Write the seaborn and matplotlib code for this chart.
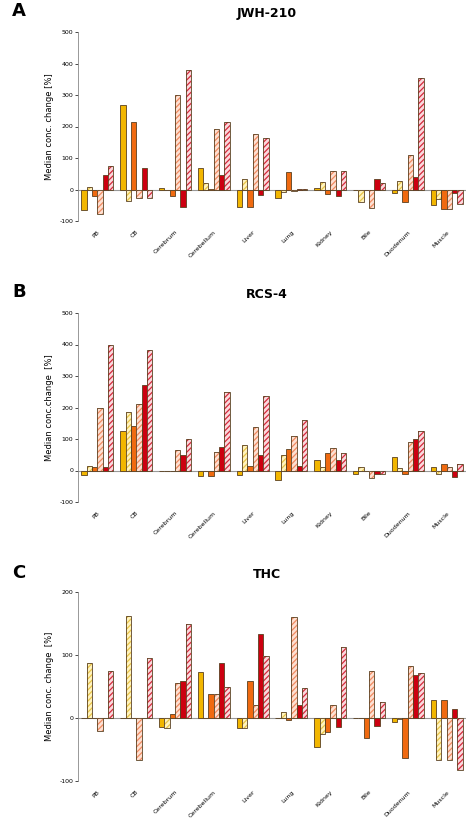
import matplotlib
matplotlib.use("Agg")
import matplotlib.pyplot as plt
import seaborn as sns
import pandas as pd
import numpy as np
from matplotlib.patches import Rectangle

categories = ["PB", "CB", "Cerebrum", "Cerebellum", "Liver", "Lung", "Kidney", "Bile", "Duodenum", "Muscle"]
series = ["s1", "s2", "s3", "s4", "s5", "s6"]

jwh_s1 = [-65, 268, 5, 68, -57, -28, 5, 0, -10, -50]
jwh_s2 = [8, -35, 0, 22, 32, -8, 25, -40, 28, -30]
jwh_s3 = [-20, 215, -22, 3, -57, 55, -15, 0, -40, -62]
jwh_s4 = [-78, -27, 300, 192, 175, -5, 58, -60, 110, -62]
jwh_s5 = [45, 68, -55, 45, -18, 2, -22, 33, 40, -12]
jwh_s6 = [75, -27, 380, 215, 165, 2, 58, 20, 355, -45]

rcs_s1 = [-13, 125, 0, -18, -15, -30, 32, -10, 42, 10]
rcs_s2 = [15, 185, 0, 0, 80, 48, 10, 12, 8, -10]
rcs_s3 = [10, 140, 0, -18, 15, 68, 55, 0, -12, 20]
rcs_s4 = [200, 212, 65, 60, 137, 110, 72, -25, 90, 12]
rcs_s5 = [10, 270, 48, 75, 48, 15, 32, -10, 100, -20]
rcs_s6 = [400, 382, 100, 250, 236, 160, 55, -12, 125, 22]

thc_s1 = [0, 0, -14, 73, -16, 0, -46, 0, -7, 28]
thc_s2 = [87, 162, -16, 0, -16, 9, -26, 0, -2, -66]
thc_s3 = [0, 0, 7, 38, 58, -3, -23, -31, -63, 28]
thc_s4 = [-21, -67, 55, 38, 21, 161, 20, 75, 83, -66]
thc_s5 = [0, 0, 58, 88, 133, 20, -14, -12, 68, 14]
thc_s6 = [75, 96, 150, 50, 98, 47, 113, 25, 71, -82]

face = ["#F2B600", "#FFF3C0", "#F06A10", "#FDE0D2", "#CC0010", "#FAD8DC"]
hatchc = [None, "#E8C448", None, "#F08A60", None, "#D42A3C"]
edge = "#5A4020"

plt.rcParams["hatch.linewidth"] = 0.9
fig = plt.figure(figsize=(4.74, 8.35), dpi=100)

panels = [
    ("A", "JWH-210", [jwh_s1, jwh_s2, jwh_s3, jwh_s4, jwh_s5, jwh_s6], (-100, 500), [-100, 0, 100, 200, 300, 400, 500],
     "Median conc. change [%]", (32, 221), 13),
    ("B", "RCS-4", [rcs_s1, rcs_s2, rcs_s3, rcs_s4, rcs_s5, rcs_s6], (-100, 500), [-100, 0, 100, 200, 300, 400, 500],
     "Median conc.change  [%]", (313, 502), 294),
    ("C", "THC", [thc_s1, thc_s2, thc_s3, thc_s4, thc_s5, thc_s6], (-100, 200), [-100, 0, 100, 200],
     "Median conc. change  [%]", (592, 781), 575),
]

H = 835.0
for letter, title, vals, ylim, yticks, ylab, (ytop, ybot), ttl in panels:
    ax = fig.add_axes([78 / 474, 1 - ybot / H, (466 - 78) / 474, (ybot - ytop) / H])
    rows = []
    for s, v in zip(series, vals):
        for c, x in zip(categories, v):
            rows.append({"cat": c, "series": s, "val": x})
    df = pd.DataFrame(rows)
    sns.barplot(data=df, x="cat", y="val", hue="series", order=categories, hue_order=series,
                palette=face, width=0.82, legend=False, ax=ax, errorbar=None, saturation=1)
    for i, p in enumerate(list(ax.patches)):
        si = i // len(categories)
        if si >= 6:
            continue
        if hatchc[si] is not None:
            p.set_hatch("//////")
            p.set_edgecolor(hatchc[si])
            p.set_linewidth(0)
            ax.add_patch(Rectangle(p.get_xy(), p.get_width(), p.get_height(), fill=False,
                                   edgecolor=edge, linewidth=0.6, zorder=p.get_zorder() + 0.1))
        else:
            p.set_edgecolor(edge)
            p.set_linewidth(0.6)
    ax.axhline(0, color="#999999", linewidth=0.8, zorder=0.5)
    ax.set_ylim(*ylim)
    ax.set_xlim(-0.5, len(categories) - 0.5)
    ax.set_yticks(yticks)
    ax.set_yticklabels([str(t) for t in yticks], fontsize=4.5)
    ax.set_xticks(range(len(categories)))
    ax.set_xticklabels(categories, rotation=45, ha="right", rotation_mode="anchor", fontsize=4.5)
    ax.tick_params(axis="x", length=0, pad=6)
    ax.tick_params(axis="y", length=2, width=0.5, pad=1.5)
    for side in ["top", "right", "bottom"]:
        ax.spines[side].set_visible(False)
    ax.spines["left"].set_color("#888888")
    ax.spines["left"].set_linewidth(0.6)
    ax.set_xlabel("")
    ax.set_ylabel(ylab, fontsize=6, labelpad=4)
    ax.set_facecolor("white")
    fig.text(0.5 + 30 / 474, 1 - ttl / H, title, ha="center", va="center", fontsize=9, fontweight="bold")
    fig.text(12 / 474, 1 - (ttl - 2) / H, letter, ha="left", va="center", fontsize=13, fontweight="bold")

fig.savefig("out.png", dpi=100, facecolor="white")
